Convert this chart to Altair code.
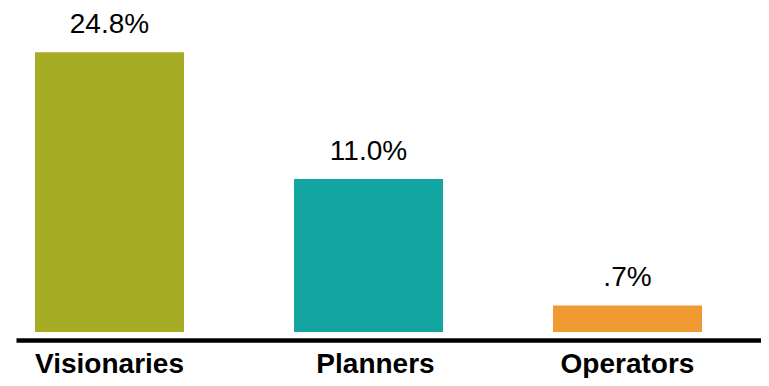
import altair as alt
import pandas as pd

categories = ["Visionaries", "Planners", "Operators"]
shares = [24.8, 11.0, 0.7]
share_labels = ["24.8%", "11.0%", ".7%"]
# drawn bar heights (the original is not drawn to scale)
drawn_heights = [25.9, 14.17, 2.46]
colors = ["#A6AC23", "#13A6A1", "#F09B31"]

df = pd.DataFrame({
    "category": categories,
    "share": shares,
    "label": share_labels,
    "height": drawn_heights,
})

FONT = "Liberation Sans"

x = alt.X(
    "category:N",
    sort=categories,
    title=None,
    scale=alt.Scale(paddingInner=0.4247, paddingOuter=0.1506, align=0.2436),
    axis=alt.Axis(
        domain=True,
        domainColor="#000000",
        domainWidth=4.5,
        offset=8,
        ticks=False,
        tickSize=0,
        grid=False,
        labelAngle=0,
        labelFont=FONT,
        labelFontSize=28,
        labelFontWeight="bold",
        labelColor="#000000",
        labelBaseline="alphabetic",
        labelPadding=32,
        labelOffset=alt.condition("datum.value === 'Planners'", alt.value(7), alt.value(0)),
    ),
)
y = alt.Y(
    "height:Q",
    title=None,
    scale=alt.Scale(domain=[0, 30], nice=False, zero=True),
    axis=None,
)

bars = alt.Chart(df).mark_bar().encode(
    x=x,
    y=y,
    color=alt.Color("category:N", scale=alt.Scale(domain=categories, range=colors), legend=None),
)

labels = alt.Chart(df).mark_text(
    font=FONT, fontSize=28, baseline="alphabetic", align="center", dy=-19, color="#000000"
).encode(
    x=alt.X("category:N", sort=categories),
    y=alt.Y("height:Q"),
    text="label:N",
)

chart = (bars + labels).properties(
    width=745,
    height=324,
    background="#ffffff",
    autosize=alt.AutoSizeParams(type="none"),
    padding={"left": 8, "top": 0, "right": 0, "bottom": 46},
).configure_view(strokeWidth=0, stroke=None)

chart.save("out.html", embed_options={"renderer": "svg", "actions": False})
